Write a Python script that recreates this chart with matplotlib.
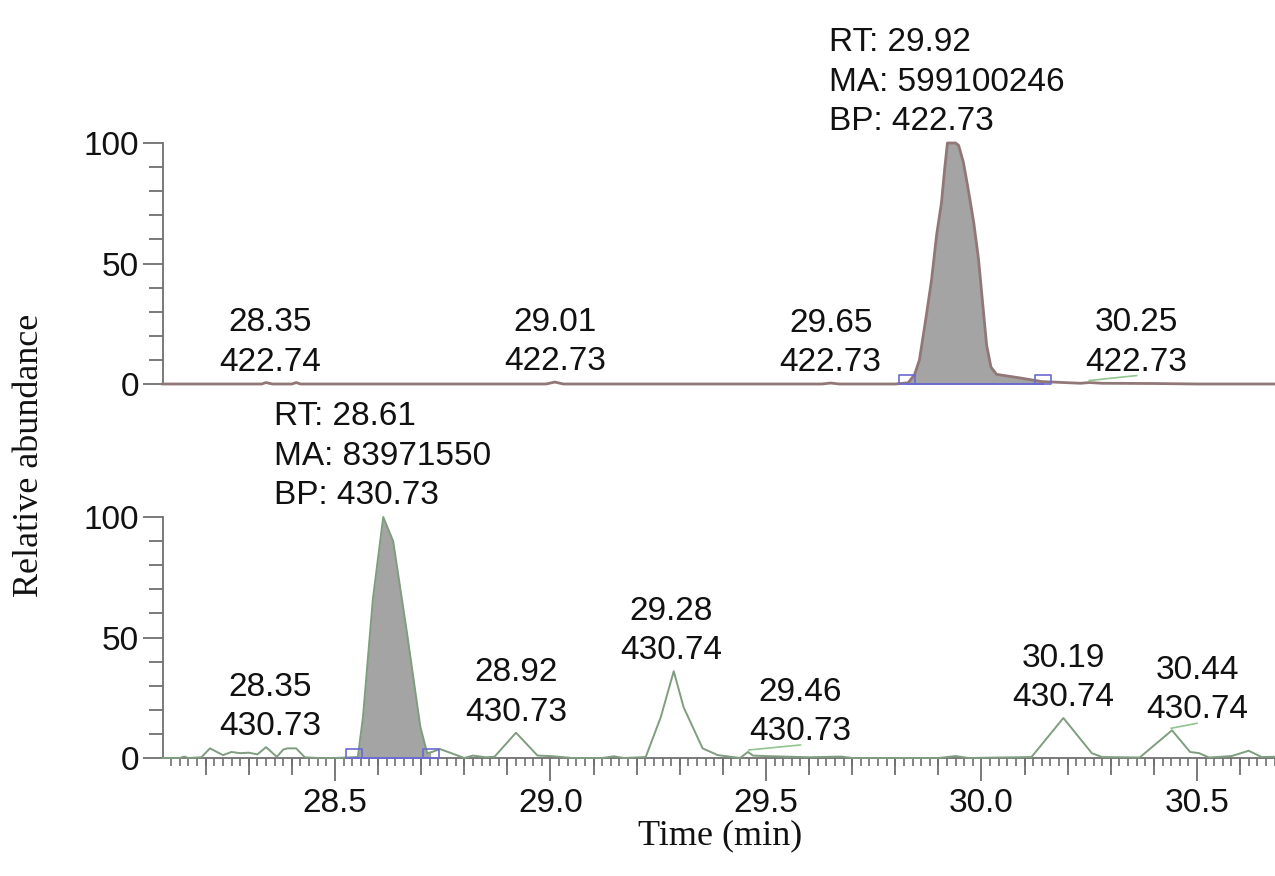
import numpy as np
import matplotlib
matplotlib.use("Agg")
import matplotlib.pyplot as plt
from matplotlib.ticker import MultipleLocator, FixedLocator, NullFormatter, FormatStrFormatter
from matplotlib.transforms import offset_copy
from matplotlib.markers import MarkerStyle
from matplotlib.path import Path

# ---------------- chromatogram data ----------------
# m/z 422.73 extracted ion trace (upper panel)
top_time = [28.10, 28.33, 28.34, 28.355, 28.40, 28.41, 28.42, 28.99, 29.01, 29.03,
            29.63, 29.65, 29.67, 29.80, 29.83, 29.845, 29.856, 29.870, 29.884, 29.896,
            29.907, 29.915, 29.921, 29.940, 29.947, 29.958, 29.970, 29.982, 29.993,
            30.003, 30.012, 30.022, 30.035, 30.09, 30.14, 30.23, 30.25, 30.28, 30.40,
            30.50, 30.68]
top_int = [0, 0, 0.6, 0, 0, 0.6, 0, 0, 0.8, 0,
           0, 0.4, 0, 0, 0.5, 4, 10, 26, 43, 62,
           75, 90, 100, 100, 99, 92, 80, 67, 52,
           33, 16, 7, 4, 2.5, 1, 0.3, 0.6, 0.3, 0.2,
           0, 0]

# m/z 430.73 extracted ion trace (lower panel)
bot_time = [28.10, 28.14, 28.15, 28.16, 28.19, 28.21, 28.24, 28.26, 28.28, 28.30,
            28.32, 28.34, 28.365, 28.38, 28.39, 28.41, 28.43, 28.46, 28.50, 28.553,
            28.565, 28.588, 28.612, 28.635, 28.667, 28.698, 28.714, 28.725, 28.744, 28.77,
            28.80, 28.82, 28.85, 28.87, 28.92, 28.97, 29.00, 29.02, 29.05, 29.12,
            29.147, 29.17, 29.221, 29.256, 29.286, 29.309, 29.353, 29.388, 29.44, 29.458,
            29.47, 29.50, 29.60, 29.674, 29.70, 29.90, 29.94, 29.97, 30.116, 30.19,
            30.256, 30.28, 30.367, 30.442, 30.484, 30.505, 30.528, 30.58, 30.62, 30.65,
            30.68]
bot_int = [0, 0, 0.6, 0, 0.3, 4, 1.2, 2.5, 2.0, 2.2,
           1.5, 4.5, 0.5, 3.5, 4, 4, 0.3, 0, 0, 0.4,
           17, 66, 100, 90, 52, 13, 2, 2.5, 3.7, 2,
           0, 1, 0.3, 0.5, 10.5, 1, 0.8, 0.5, 0, 0,
           0.7, 0, 0.4, 17, 36, 21, 4, 1.2, 0, 2.5,
           1, 0.8, 0.3, 0.6, 0, 0, 0.8, 0, 0.4, 16.6,
           2, 0.4, 0.2, 11.5, 2.5, 2, 0.2, 0.8, 3, 0.4,
           0.5]

# integrated peaks
top_peak_start, top_peak_end = 29.827, 30.143
bot_peak_start, bot_peak_end = 28.545, 28.722
top_peak_rt, top_peak_ma, top_peak_bp = "29.92", "599100246", "422.73"
bot_peak_rt, bot_peak_ma, bot_peak_bp = "28.61", "83971550", "430.73"

# labelled minor peaks: retention time, base peak m/z, label position
top_lbl_rt = [28.35, 29.01, 29.65, 30.25]
top_lbl_mz = ["422.74", "422.73", "422.73", "422.73"]
top_lbl_x = [28.35, 29.01, 29.65, 30.36]

bot_lbl_rt = [28.35, 28.92, 29.28, 29.46, 30.19, 30.44]
bot_lbl_mz = ["430.73", "430.73", "430.74", "430.73", "430.74", "430.74"]
bot_lbl_x = [28.35, 28.92, 29.28, 29.58, 30.19, 30.50]

x_min, x_max = 28.101, 30.681
y_ticks_labelled = [0, 50, 100]

# ---------------- styling ----------------
SANS = ["Liberation Sans", "DejaVu Sans"]
SERIF = ["Liberation Serif", "DejaVu Serif"]
plt.rcParams["font.family"] = SANS
FS = 24
AXIS_GREY = "#6f6f6f"
TOP_LINE = "#927777"
BOT_LINE = "#7f9d7f"
FILL = "#a4a4a4"
BLUE = "#6a6ad2"
LEADER = "#90c490"
TXT = "#111111"
PX = 0.72  # points per pixel at 100 dpi

fig = plt.figure(figsize=(12.75, 8.76), dpi=100)
ax_t = fig.add_axes([163 / 1275, 1 - 384 / 876, 1 - 163 / 1275, 241 / 876])
ax_b = fig.add_axes([163 / 1275, 1 - 758 / 876, 1 - 163 / 1275, 241 / 876])

box = Path([(-1, 0), (1, 0), (1, 1.1), (-1, 1.1), (-1, 0)],
           [Path.MOVETO, Path.LINETO, Path.LINETO, Path.LINETO, Path.CLOSEPOLY])


def peak_height(t, y, rt, win=0.02):
    t = np.asarray(t)
    y = np.asarray(y)
    m = np.abs(t - rt) <= win
    return float(y[m].max()) if m.any() else float(np.interp(rt, t, y))


def draw_panel(ax, t, y, color, lw, start, end, rt, ma, bp,
               lbl_rt, lbl_mz, lbl_x, show_xaxis):
    t = np.asarray(t, float)
    y = np.asarray(y, float)
    ax.set_xlim(x_min, x_max)
    ax.set_ylim(0, 100)
    for s in ("top", "right"):
        ax.spines[s].set_visible(False)
    ax.spines["left"].set_color(AXIS_GREY)
    ax.spines["left"].set_linewidth(1.3)
    ax.spines["left"].set_bounds(0, 100)

    # integrated peak area
    m = (t > start) & (t < end)
    xs = np.concatenate([[start], t[m], [end]])
    ys = np.interp(xs, t, y)
    ax.fill_between(xs, ys, 0, color=FILL, lw=0, zorder=2)
    ax.plot(t, y, color=color, lw=lw, zorder=3, clip_on=False,
            solid_joinstyle="round")
    ax.plot([start, end], [0, 0], color=BLUE, lw=1.4, zorder=4, clip_on=False)
    ax.plot([start, end], [0, 0], ls="none", marker=MarkerStyle(box),
            markersize=12.5, markerfacecolor="none", markeredgecolor=BLUE,
            markeredgewidth=1.2, zorder=5, clip_on=False)

    # y axis
    ax.yaxis.set_major_locator(FixedLocator(y_ticks_labelled))
    ax.yaxis.set_minor_locator(MultipleLocator(10))
    ax.yaxis.set_major_formatter(FormatStrFormatter("%d"))
    ax.tick_params(axis="y", which="major", length=20 * PX, width=1.3,
                   color=AXIS_GREY, labelsize=FS, pad=3, labelcolor=TXT)
    ax.tick_params(axis="y", which="minor", length=14 * PX, width=1.3,
                   color=AXIS_GREY)

    if show_xaxis:
        ax.spines["bottom"].set_color(AXIS_GREY)
        ax.spines["bottom"].set_linewidth(1.3)
        ax.spines["bottom"].set_zorder(1)
        ax.xaxis.set_major_locator(MultipleLocator(0.5))
        ax.xaxis.set_minor_locator(MultipleLocator(0.02))
        ax.xaxis.set_major_formatter(FormatStrFormatter("%.1f"))
        ax.tick_params(axis="x", which="major", length=23 * PX, width=1.3,
                       color=AXIS_GREY, labelsize=FS, pad=5, labelcolor=TXT)
        ax.tick_params(axis="x", which="minor", length=8 * PX, width=1.2,
                       color=AXIS_GREY)
        sec = ax.secondary_xaxis("bottom")
        sec.spines["bottom"].set_visible(False)
        tenth = [v for v in np.round(np.arange(28.2, 30.65, 0.1), 1)
                 if abs(v * 2 - round(v * 2)) > 1e-6]
        sec.xaxis.set_major_locator(FixedLocator(tenth))
        sec.xaxis.set_major_formatter(NullFormatter())
        sec.tick_params(axis="x", length=17 * PX, width=1.3, color=AXIS_GREY)
    else:
        ax.spines["bottom"].set_visible(False)
        ax.tick_params(axis="x", which="both", bottom=False, labelbottom=False)

    # main peak annotation
    h = peak_height(t, y, float(rt))
    tr = offset_copy(ax.transData, fig=fig, y=13, units="dots")
    ax.text(float(rt), h, f"RT: {rt}\nMA: {ma}\nBP: {bp}", transform=tr,
            ha="center", va="baseline", multialignment="left", fontsize=FS,
            linespacing=1.35, color=TXT, clip_on=False, zorder=6)

    # minor peak annotations
    for r, mz, lx in zip(lbl_rt, lbl_mz, lbl_x):
        hp = peak_height(t, y, r)
        tr = offset_copy(ax.transData, fig=fig, y=12, units="dots")
        ax.text(lx, hp, f"{r:.2f}\n{mz}", transform=tr, ha="center",
                va="baseline", fontsize=FS, linespacing=1.35, color=TXT,
                clip_on=False, zorder=6)
        if abs(lx - r) > 0.03:
            t0 = offset_copy(ax.transData, fig=fig, y=2, units="dots")
            t1 = offset_copy(ax.transData, fig=fig, y=7, units="dots")
            p0 = t0.transform((r, hp))
            p1 = t1.transform((lx, hp))
            inv = ax.transData.inverted()
            (x0, y0), (x1, y1) = inv.transform([p0, p1])
            ax.plot([x0, x1], [y0, y1], color=LEADER, lw=1.2, zorder=4,
                    clip_on=False)


draw_panel(ax_t, top_time, top_int, TOP_LINE, 2.0, top_peak_start, top_peak_end,
           top_peak_rt, top_peak_ma, top_peak_bp,
           top_lbl_rt, top_lbl_mz, top_lbl_x, show_xaxis=False)
draw_panel(ax_b, bot_time, bot_int, BOT_LINE, 1.4, bot_peak_start, bot_peak_end,
           bot_peak_rt, bot_peak_ma, bot_peak_bp,
           bot_lbl_rt, bot_lbl_mz, bot_lbl_x, show_xaxis=True)

fig.text(30 / 1275, 1 - 455 / 876, "Relative abundance", rotation=90,
         ha="center", va="center", fontsize=26, family=SERIF, color=TXT)
fig.text(720 / 1275, 1 - 836 / 876, "Time (min)", ha="center", va="center",
         fontsize=26, family=SERIF, color=TXT)

fig.savefig("out.png", dpi=100, facecolor="white")
